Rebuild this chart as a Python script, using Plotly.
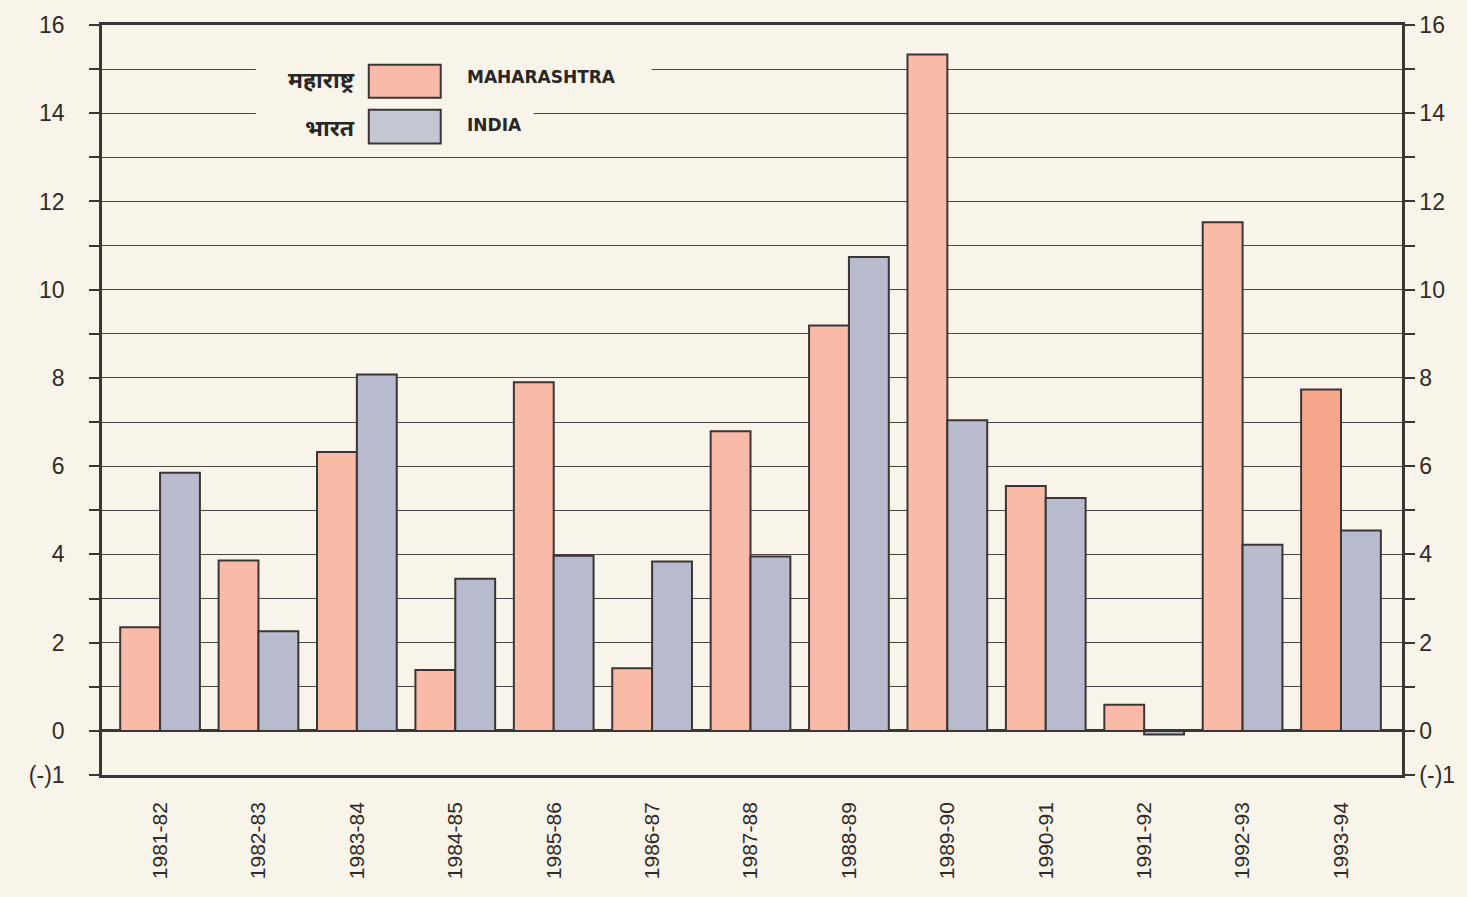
import plotly.graph_objects as go

years = ["1981-82", "1982-83", "1983-84", "1984-85", "1985-86", "1986-87", "1987-88",
         "1988-89", "1989-90", "1990-91", "1991-92", "1992-93", "1993-94"]
maharashtra = [2.35, 3.86, 6.32, 1.38, 7.9, 1.42, 6.79, 9.19, 15.33, 5.55, 0.59, 11.53, 7.74]
india = [5.85, 2.26, 8.08, 3.45, 3.97, 3.84, 3.95, 10.74, 7.04, 5.28, -0.08, 4.22, 4.54]

y_ticks = list(range(-1, 17))
y_labels = ["(-)1" if v == -1 else (str(v) if v % 2 == 0 else "") for v in y_ticks]

BG = "#f9f4e9"
INK = "#3a3636"
M_COLOR = "#f9bba7"
I_COLOR = "#b7bbcd"

m_colors = [M_COLOR] * (len(years) - 1) + ["#f6a68b"]
x_idx = list(range(len(years)))

fig = go.Figure()
fig.add_trace(go.Bar(x=x_idx, y=maharashtra, name="MAHARASHTRA",
                     marker=dict(color=m_colors, line=dict(color=INK, width=2))))
fig.add_trace(go.Bar(x=x_idx, y=india, name="INDIA",
                     marker=dict(color=I_COLOR, line=dict(color=INK, width=2))))
# invisible trace so the right-hand axis is drawn
fig.add_trace(go.Scatter(x=[0], y=[0], yaxis="y2", mode="markers",
                         marker=dict(opacity=0), showlegend=False, hoverinfo="skip"))

tick_font = dict(family="Liberation Sans, Arial, sans-serif", size=23, color="#2f2b2b")

fig.update_layout(
    width=1467,
    height=897,
    paper_bgcolor=BG,
    plot_bgcolor=BG,
    margin=dict(l=102, r=64, t=22, b=122),
    barmode="group",
    bargap=0.19,
    bargroupgap=0,
    showlegend=False,
    xaxis=dict(
        range=[-0.59, 12.62],
        tickvals=x_idx,
        ticktext=years,
        tickangle=-90,
        ticks="",
        ticklabelstandoff=16,
        tickfont=dict(family="Liberation Sans, Arial, sans-serif", size=21, color="#2f2b2b"),
        showgrid=False,
        zeroline=False,
        showline=True,
        linecolor=INK,
        linewidth=2.5,
        mirror=True,
    ),
    yaxis=dict(
        range=[-1, 16],
        tickvals=y_ticks,
        ticktext=y_labels,
        ticks="outside",
        ticklen=10,
        tickwidth=2,
        tickcolor=INK,
        tickfont=tick_font,
        ticklabelstandoff=20,
        showgrid=True,
        gridcolor="#4a4646",
        gridwidth=1.3,
        zeroline=True,
        zerolinecolor=INK,
        zerolinewidth=2.5,
        showline=True,
        linecolor=INK,
        linewidth=2.5,
    ),
    yaxis2=dict(
        range=[-1, 16],
        overlaying="y",
        side="right",
        tickvals=y_ticks,
        ticktext=y_labels,
        ticks="outside",
        ticklen=10,
        tickwidth=2,
        tickcolor=INK,
        tickfont=tick_font,
        showgrid=False,
        zeroline=False,
        showline=True,
        linecolor=INK,
        linewidth=2.5,
    ),
)

# legend drawn by hand: mask the grid behind it, then the two swatches
px_x = lambda p: (p - 102) / 1301
px_y = lambda p: (775 - p) / 753
fig.add_shape(type="rect", xref="paper", yref="paper", layer="above",
              x0=px_x(256), x1=px_x(652), y0=px_y(100), y1=px_y(52),
              fillcolor=BG, line_width=0)
fig.add_shape(type="rect", xref="paper", yref="paper", layer="above",
              x0=px_x(256), x1=px_x(534), y0=px_y(146), y1=px_y(99),
              fillcolor=BG, line_width=0)
fig.add_shape(type="rect", xref="paper", yref="paper", layer="above",
              x0=px_x(369), x1=px_x(441), y0=px_y(95), y1=px_y(62),
              fillcolor=M_COLOR, line=dict(color=INK, width=2))
fig.add_shape(type="rect", xref="paper", yref="paper", layer="above",
              x0=px_x(369), x1=px_x(441), y0=px_y(141), y1=px_y(107),
              fillcolor="#c3c6d3", line=dict(color=INK, width=2))

label_font = dict(family="DejaVu Sans, sans-serif", size=17, color="#2a2626")
for text, yy, en in [("<b>महाराष्ट्र</b>", 76, "<b>MAHARASHTRA</b>"), ("<b>भारत</b>", 124, "<b>INDIA</b>")]:
    fig.add_annotation(xref="paper", yref="paper", x=px_x(357), y=px_y(yy),
                       xanchor="right", yanchor="middle", showarrow=False, text=text,
                       font=dict(family="Noto Sans, sans-serif", size=23, color="#2a2626"))
    fig.add_annotation(xref="paper", yref="paper", x=px_x(465), y=px_y(yy - 2),
                       xanchor="left", yanchor="middle", showarrow=False, text=en,
                       font=label_font)

fig.write_html(
    "out.html",
    config={"displayModeBar": False},
    post_script="document.body.style.margin='0';document.body.style.background='%s';" % BG,
)
